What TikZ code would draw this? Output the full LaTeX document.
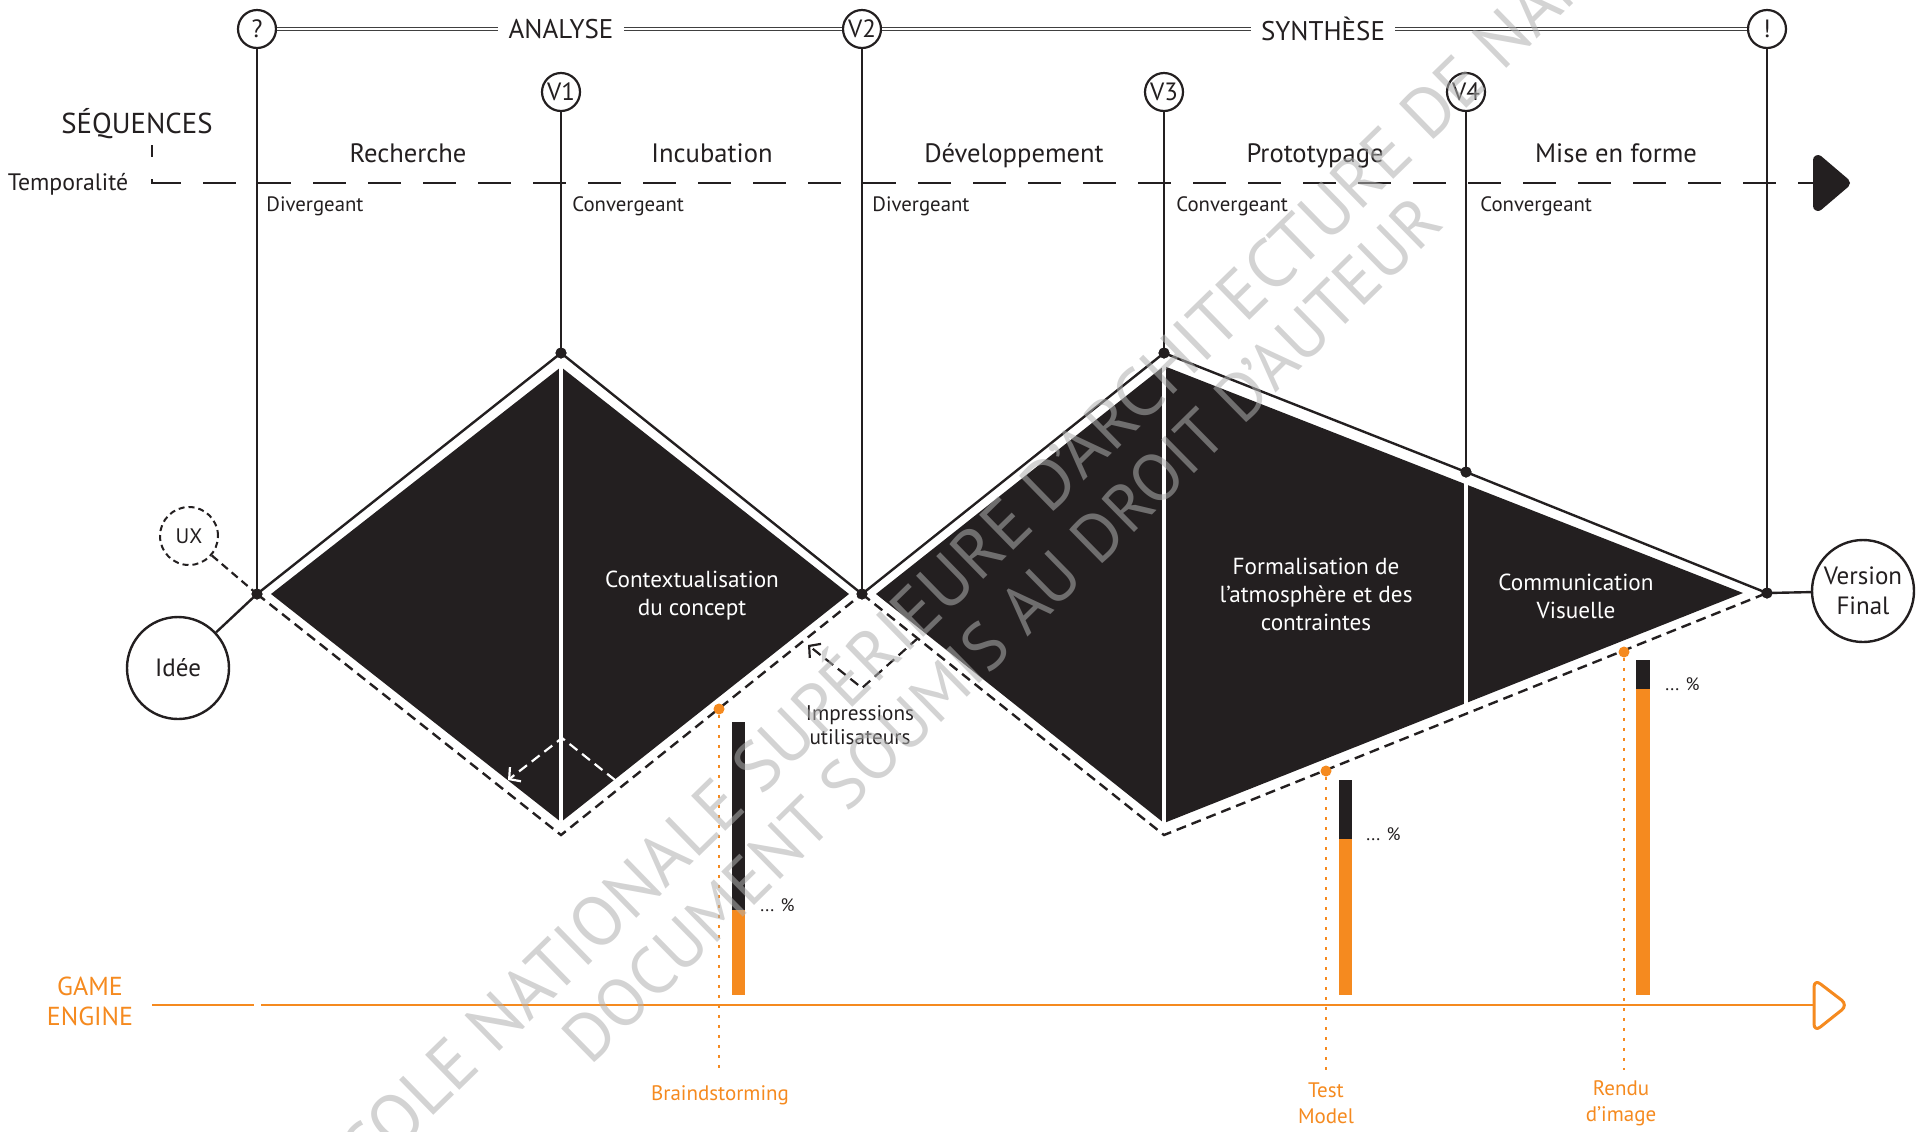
\documentclass[tikz,border=0pt]{standalone}
\usepackage{fontspec}
\setmainfont{PT Sans}
\usetikzlibrary{arrows.meta}
\definecolor{ink}{HTML}{231F20}
\definecolor{orng}{HTML}{F58A1F}
\definecolor{wm}{RGB}{175,175,175}
\begin{document}
\begin{tikzpicture}[x=0.5pt,y=-0.5pt,
  vcirc/.style={circle, draw=ink, line width=1.1pt, fill=white, minimum size=19pt, inner sep=0pt, font=\fontsize{12.5}{13}\selectfont, text=ink},
  bigc/.style={circle, draw=ink, line width=1.2pt, fill=white, minimum size=51pt, inner sep=0pt, font=\fontsize{12.5}{15}\selectfont, text=ink, align=center},
  uxc/.style={circle, draw=ink, line width=1pt, dash pattern=on 3pt off 2pt, fill=white, minimum size=29pt, inner sep=0pt, font=\fontsize{10.5}{11}\selectfont, text=ink},
  dotn/.style={circle, fill=ink, inner sep=0pt, minimum size=5.5pt},
  odotn/.style={circle, fill=orng, inner sep=0pt, minimum size=5.5pt},
  stem/.style={draw=ink, line width=1pt},
  topline/.style={draw=black!75, line width=0.5pt, double=white, double distance=0.55pt},
  toplabel/.style={font=\fontsize{13.5}{15}\selectfont, text=ink, inner sep=5pt},
  edgeline/.style={draw=ink, line width=1.2pt},
  dedge/.style={draw=ink, line width=1.2pt, dash pattern=on 5pt off 3pt},
  tdash/.style={draw=ink, line width=1.4pt, dash pattern=on 16.5pt off 11pt, dash phase=10.5pt},
  phase/.style={font=\fontsize{13.3}{15}\selectfont, text=ink, anchor=base},
  modelab/.style={font=\fontsize{10.4}{12}\selectfont, text=ink, anchor=base west, inner sep=0pt},
  inner/.style={font=\fontsize{11.6}{14}\selectfont, text=white, align=center},
  smalltxt/.style={font=\fontsize{10.6}{12}\selectfont, text=ink, align=center},
  pct/.style={font=\fontsize{9}{10}\selectfont, text=ink, anchor=west, inner sep=0pt},
  olab/.style={font=\fontsize{10.5}{13}\selectfont, text=orng, align=center},
  oline/.style={draw=orng, line width=1.4pt},
  odotted/.style={draw=orng, line width=1.3pt, dash pattern=on 1.4pt off 3.6pt},
  wdash/.style={draw=white, line width=1.1pt, dash pattern=on 5pt off 3pt, -{Straight Barb[length=4pt,width=9pt]}},
  bdash/.style={draw=ink, line width=1.1pt, dash pattern=on 5pt off 3pt, -{Straight Barb[length=4pt,width=9pt]}},
  wmark/.style={font=\fontsize{33.5}{34}\selectfont, text=wm, text opacity=0.55, inner sep=0pt, anchor=west}
]
\useasboundingbox (0,0) rectangle (1917,1131);

% ---------- fills of the diamonds ----------
\fill[ink] (271,594) -- (561,367) -- (849,594) -- (561,822) -- cycle;
\fill[ink] (876,594) -- (1164,366) -- (1743,593) -- (1164,823) -- cycle;
\draw[white, line width=2.2pt] (561,367) -- (561,822);
\draw[white, line width=2.2pt] (1164,366) -- (1164,823);
\draw[white, line width=2.2pt] (1466,482) -- (1466,705);

% ---------- top bar ----------
\node[vcirc] (q) at (257,29) {?};
\node[vcirc] (v2) at (862,29) {V2};
\node[vcirc] (ex) at (1767,29) {!};
\node[vcirc] (v1) at (561,92) {V1};
\node[vcirc] (v3) at (1164,92) {V3};
\node[vcirc] (v4) at (1466,92) {V4};
\node[toplabel] (analyse) at (561,29) {ANALYSE};
\node[toplabel] (synth) at (1323,29) {SYNTHÈSE};
\draw[topline] (q) -- (analyse);
\draw[topline] (analyse) -- (v2);
\draw[topline] (v2) -- (synth);
\draw[topline] (synth) -- (ex);

% ---------- sequences / temporalité ----------
\node[font=\fontsize{14.4}{16}\selectfont, text=ink, anchor=base] (seq) at (137,133) {SÉQUENCES};
\node[font=\fontsize{11.9}{13}\selectfont, text=ink, anchor=base] (temp) at (68,190) {Temporalité};
\coordinate (tstart) at (152,145);
\coordinate (tcorner) at (152,183);
\coordinate (tend) at (1816,183);
\draw[tdash] (tstart) -- (tcorner) -- (tend);
\filldraw[ink, line width=5pt, line join=round] (1818,160) -- (1845,183) -- (1818,206) -- cycle;

\node[phase] (ph1) at (408,162) {Recherche};
\node[phase] (ph2) at (712,162) {Incubation};
\node[phase] (ph3) at (1014,162) {Développement};
\node[phase] (ph4) at (1315,162) {Prototypage};
\node[phase] (ph5) at (1616,162) {Mise en forme};

\node[modelab] (m1) at (266,211) {Divergeant};
\node[modelab] (m2) at (572,211) {Convergeant};
\node[modelab] (m3) at (872,211) {Divergeant};
\node[modelab] (m4) at (1176,211) {Convergeant};
\node[modelab] (m5) at (1480,211) {Convergeant};

% ---------- junction dots ----------
\node[dotn] (d0) at (257,594) {};
\node[dotn] (dv1) at (561,353) {};
\node[dotn] (dv2) at (862,594) {};
\node[dotn] (dv3) at (1164,353) {};
\node[dotn] (dv4) at (1466,472) {};
\node[dotn] (dex) at (1767,593) {};
\coordinate (b1) at (561,835);
\coordinate (b2) at (1164,835);

% ---------- outlines ----------
\draw[edgeline, line join=miter] (d0.center) -- (dv1.center) -- (dv2.center) -- (dv3.center) -- (dv4.center) -- (dex.center);
\draw[dedge] (d0.center) -- (b1) -- (dv2.center);
\draw[dedge] (dv2.center) -- (b2) -- (dex.center);

% ---------- stems ----------
\draw[stem] (q) -- (d0.center);
\draw[stem] (v1) -- (dv1.center);
\draw[stem] (v2) -- (dv2.center);
\draw[stem] (v3) -- (dv3.center);
\draw[stem] (v4) -- (dv4.center);
\draw[stem] (ex) -- (dex.center);
\node[dotn] at (d0) {};
\node[dotn] at (dv1) {};
\node[dotn] at (dv2) {};
\node[dotn] at (dv3) {};
\node[dotn] at (dv4) {};
\node[dotn] at (dex) {};

% ---------- start / end circles ----------
\node[bigc] (idee) at (178,668) {Idée};
\node[uxc] (ux) at (189,536) {UX};
\node[bigc] (vf) at (1863,591) {Version\\Final};
\draw[edgeline] (idee) -- (d0.center);
\draw[draw=ink, line width=1.1pt, dash pattern=on 4pt off 2.5pt] (ux) -- (d0.center);
\draw[edgeline] (dex.center) -- (vf);

% ---------- texts inside ----------
\node[inner] (t1) at (692,596) {Contextualisation\\du concept};
\node[inner] (t2) at (1316,594) {Formalisation de\\l’atmosphère et des\\contraintes};
\node[inner] (t3) at (1576,596) {Communication\\Visuelle};

% ---------- feedback arrows ----------
\coordinate (fa1) at (615,780);
\coordinate (fa2) at (562,738);
\coordinate (fa3) at (508,780);
\draw[wdash] (fa1) -- (fa2) -- (fa3);
\coordinate (fb1) at (918,638);
\coordinate (fb2) at (862,688);
\coordinate (fb3) at (808,645);
\draw[bdash] (fb1) -- (fb2) -- (fb3);
\node[smalltxt] (imp) at (860,725) {Impressions\\utilisateurs};

% ---------- game engine ----------
\node[olab, font=\fontsize{13}{15}\selectfont] (ge) at (90,1001) {GAME\\ENGINE};
\coordinate (ge0) at (152,1005);
\coordinate (ge1) at (254,1005);
\coordinate (ge2) at (261,1005);
\coordinate (ge3) at (1814,1005);
\draw[oline] (ge0) -- (ge1);
\draw[oline] (ge2) -- (ge3);
\draw[orng, line width=1.5pt, line join=round, rounded corners=4pt, fill=white] (1814,979) -- (1848,1005) -- (1814,1032) -- cycle;

% bars
\fill[ink] (732,722) rectangle (745,910);
\fill[orng] (732,910) rectangle (745,995);
\fill[ink] (1338.5,780) rectangle (1352,839);
\fill[orng] (1338.5,839) rectangle (1352,995);
\fill[ink] (1636,660) rectangle (1650,689);
\fill[orng] (1636,689) rectangle (1650,995);
\node[pct] (p1) at (760,905) {... \%};
\node[pct] (p2) at (1366,834) {... \%};
\node[pct] (p3) at (1665,684) {... \%};

% milestones
\node[odotn] (o1) at (719,709) {};
\node[odotn] (o2) at (1326,771) {};
\node[odotn] (o3) at (1624,652) {};
\coordinate (o1e) at (719,1070);
\coordinate (o2e) at (1326,1070);
\coordinate (o3e) at (1624,1070);
\draw[odotted] (o1) -- (o1e);
\draw[odotted] (o2) -- (o2e);
\draw[odotted] (o3) -- (o3e);
\node[olab] (l1) at (720,1095) {Braindstorming};
\node[olab] (l2) at (1326,1103) {Test\\Model};
\node[olab] (l3) at (1621,1103) {Rendu\\d’image};

% ---------- watermark ----------
\begin{scope}
\clip (0,0) rectangle (1917,1131);
\node[wmark, font=\fontsize{35}{36}\selectfont, rotate=44.3] (wm1) at (320,1185) {ÉCOLE NATIONALE SUPÉRIEURE D'ARCHITECTURE DE NANTES};
\node[wmark, rotate=44.5] (wm2) at (574,1050) {DOCUMENT SOUMIS AU DROIT D'AUTEUR};
\end{scope}
\end{tikzpicture}
\end{document}
